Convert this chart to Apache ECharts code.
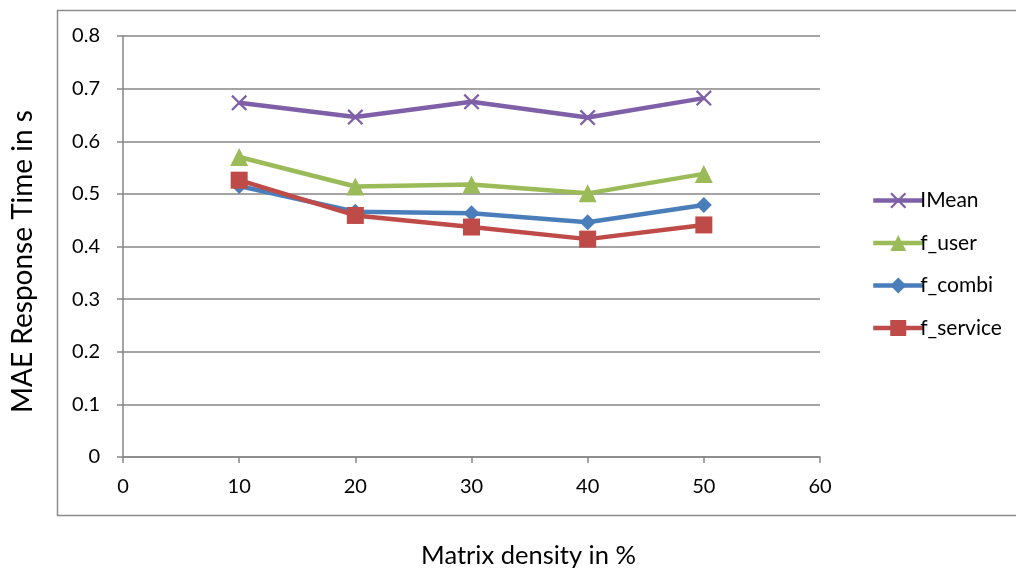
<!DOCTYPE html>
<html><head><meta charset="utf-8">
<script src="https://cdn.jsdelivr.net/npm/echarts@6/dist/echarts.min.js"></script>
<style>html,body{margin:0;padding:0;background:#fff}#c{width:1016px;height:569px}</style>
</head><body><div id="c"></div>
<script>
const xValues = [10, 20, 30, 40, 50];
const seriesNames = ['IMean', 'f_user', 'f_combi', 'f_service'];
const iMean = [0.673, 0.646, 0.675, 0.645, 0.682];
const fUser = [0.570, 0.514, 0.518, 0.501, 0.538];
const fCombi = [0.515, 0.466, 0.463, 0.446, 0.479];
const fService = [0.526, 0.459, 0.437, 0.414, 0.441];
const xTitle = 'Matrix density in %';
const yTitle = 'MAE Response Time in s';

const FONT = 'Lato';
const pairs = arr => xValues.map((x, i) => [x, arr[i]]);
const crossPath = 'path://M0,1L1,0L5,4L9,0L10,1L6,5L10,9L9,10L5,6L1,10L0,9L4,5Z';
const colors = ['#7f60a8', '#9bbb59', '#4a7ebb', '#be4b48'];
const symbols = [crossPath, 'triangle', 'diamond', 'rect'];
const sizes = [16, 18, 16, 17];
const dataSets = [iMean, fUser, fCombi, fService];

const chart = echarts.init(document.getElementById('c'));
chart.setOption({
  animation: false,
  graphic: [{
    type: 'rect', shape: {x: 57.5, y: 10.5, width: 980, height: 505},
    style: {fill: 'none', stroke: '#8c8c8c', lineWidth: 1.5}, z: -1
  }],
  grid: {left: 123, right: 196, top: 36, bottom: 112, containLabel: false, outerBoundsMode: 'none'},
  legend: {
    orient: 'vertical', left: 866, top: 185, itemWidth: 50, itemHeight: 20, itemGap: 21.5,
    data: seriesNames,
    lineStyle: {width: 4.5},
    textStyle: {fontFamily: FONT, fontSize: 21, color: '#000', padding: [0, 0, 0, -8]}
  },
  xAxis: {
    type: 'value', min: 0, max: 60, interval: 10,
    name: xTitle, nameLocation: 'middle', nameGap: 86,
    nameTextStyle: {fontFamily: FONT, fontSize: 25.5, color: '#000', padding: [0, 0, 0, 114]},
    axisLine: {show: true, lineStyle: {color: '#868686', width: 1.5}},
    axisTick: {show: true, length: 6, lineStyle: {color: '#868686', width: 1.5}},
    axisLabel: {fontFamily: FONT, fontSize: 20, color: '#000', margin: 20},
    splitLine: {show: false}
  },
  yAxis: {
    type: 'value', min: 0, max: 0.8, interval: 0.1,
    name: yTitle, nameLocation: 'middle', nameGap: 86, nameRotate: 90,
    nameTextStyle: {fontFamily: FONT, fontSize: 28, color: '#000', padding: [0, 30, 0, 0]},
    axisLine: {show: true, lineStyle: {color: '#868686', width: 1.5}},
    axisTick: {show: true, length: 6, lineStyle: {color: '#868686', width: 1.5}},
    axisLabel: {fontFamily: FONT, fontSize: 20, color: '#000', margin: 23,
      formatter: v => (Math.round(v * 10) / 10).toString()},
    splitLine: {show: true, lineStyle: {color: '#868686', width: 1.5}}
  },
  series: seriesNames.map((n, i) => ({
    name: n, type: 'line', data: pairs(dataSets[i]),
    symbol: symbols[i], symbolSize: sizes[i], showAllSymbol: true,
    lineStyle: {color: colors[i], width: 4.5},
    itemStyle: {color: colors[i], opacity: 1},
    z: 10 + i
  }))
});
</script></body></html>
